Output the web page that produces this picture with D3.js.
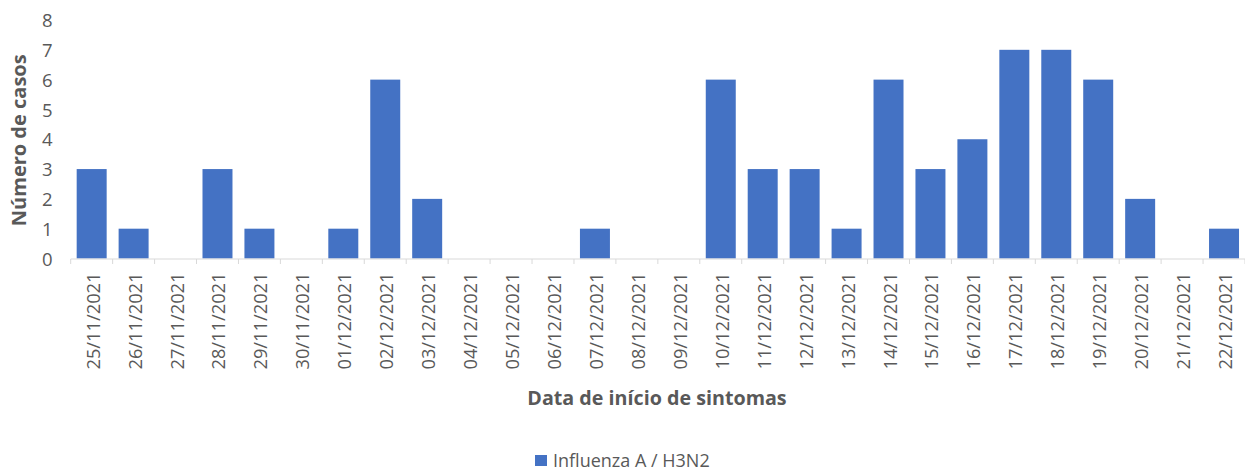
<!DOCTYPE html>
<html><head><meta charset="utf-8">
<script src="https://cdn.jsdelivr.net/npm/d3@7"></script>
<style>body{margin:0;background:#fff}svg{display:block}text{font-family:"Open Sans","Liberation Sans",sans-serif}</style>
</head><body>
<script>
const categories = ["25/11/2021","26/11/2021","27/11/2021","28/11/2021","29/11/2021","30/11/2021","01/12/2021","02/12/2021","03/12/2021","04/12/2021","05/12/2021","06/12/2021","07/12/2021","08/12/2021","09/12/2021","10/12/2021","11/12/2021","12/12/2021","13/12/2021","14/12/2021","15/12/2021","16/12/2021","17/12/2021","18/12/2021","19/12/2021","20/12/2021","21/12/2021","22/12/2021"];
const values = [3,1,0,3,1,0,1,6,2,0,0,0,1,0,0,6,3,3,1,6,3,4,7,7,6,2,0,1];
const yTicks = [0,1,2,3,4,5,6,7,8];
const seriesName = "Influenza A / H3N2";
const yTitle = "Número de casos";
const xTitle = "Data de início de sintomas";

const W = 1245, H = 470;
const mLeft = 70.7, mRight = 1245, mTop = 20, mBottom = 258.5;
const svg = d3.select("body").append("svg").attr("width", W).attr("height", H);
const x = d3.scaleBand().domain(categories).range([mLeft, mRight]).paddingInner(0.285).paddingOuter(0.1425);
const y = d3.scaleLinear().domain([0, 8]).range([mBottom, mTop]);
const color = "#4472c4", txt = "#595959";

svg.append("g").selectAll("rect").data(values).join("rect")
  .attr("x", (d,i) => x(categories[i]))
  .attr("width", x.bandwidth())
  .attr("y", d => y(d))
  .attr("height", d => y(0) - y(d))
  .attr("fill", color);

const ya = svg.append("g").attr("transform", `translate(${mLeft - 14},0)`)
  .call(d3.axisLeft(y).tickValues(yTicks).tickSize(0).tickFormat(d3.format("d")));
ya.select(".domain").remove();
ya.selectAll("text").attr("fill", txt).style("font-size", "18.5px").attr("dy", "0.36em").attr("x", -4);

const step = x.step();
const xa = svg.append("g").attr("transform", `translate(0,${mBottom})`);
xa.append("line").attr("x1", mLeft).attr("x2", mRight).attr("y1", 0.5).attr("y2", 0.5).attr("stroke", "#d9d9d9").attr("stroke-width", 1);
const tickPos = d3.range(categories.length + 1).map(i => mLeft + i * step);
xa.selectAll("line.t").data(tickPos).join("line").attr("class","t")
  .attr("x1", d => d).attr("x2", d => d).attr("y1", 0.5).attr("y2", 5.5)
  .attr("stroke", "#d9d9d9");
xa.selectAll("text").data(categories).join("text")
  .attr("transform", d => `translate(${x(d) + x.bandwidth()/2 + 8},${14}) rotate(-90)`)
  .attr("text-anchor", "end")
  .attr("fill", txt).style("font-size", "18.3px")
  .text(d => d);

svg.append("text").attr("transform", `translate(26,${(mTop+mBottom)/2 + 1}) rotate(-90)`)
  .attr("text-anchor", "middle").attr("fill", txt).style("font-size", "20px").style("font-weight", "bold")
  .text(yTitle);
svg.append("text").attr("x", 657).attr("y", 405)
  .attr("text-anchor", "middle").attr("fill", txt).style("font-size", "19.7px").style("font-weight", "bold")
  .text(xTitle);

const lg = svg.append("g").attr("transform", "translate(535,455)");
lg.append("rect").attr("x", 0).attr("y", 0).attr("width", 12).attr("height", 11).attr("fill", color);
lg.append("text").attr("x", 18).attr("y", 11.5).attr("fill", txt).style("font-size", "18px").text(seriesName);
</script>
</body></html>
